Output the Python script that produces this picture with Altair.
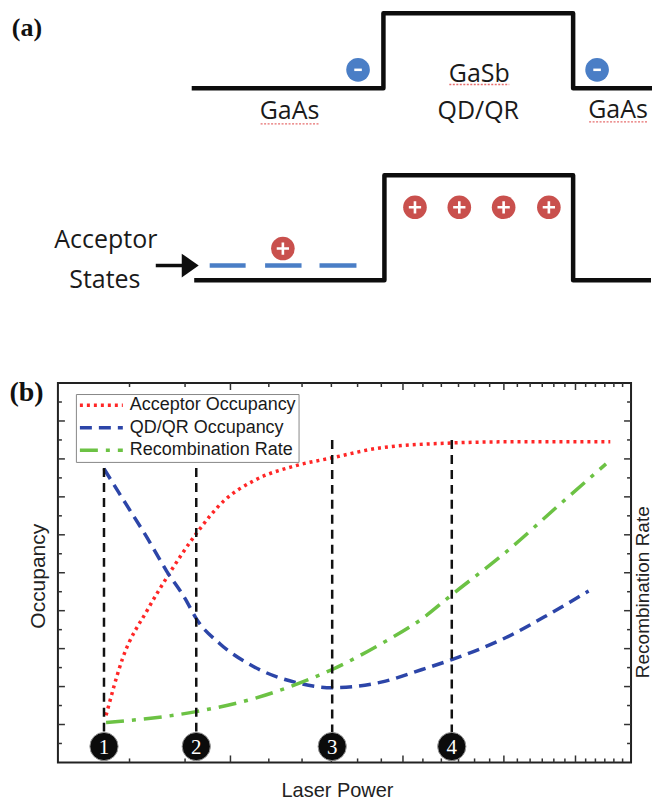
import altair as alt
import pandas as pd

# ================= (a) band diagram (schematic units) =================
cb_x = [192, 384, 384, 574, 574, 653]
cb_y = [86.7, 86.7, 11.7, 11.7, 86.7, 86.7]
vb_x = [194.5, 385, 385, 574, 574, 652]
vb_y = [279, 279, 174, 174, 279, 279]
acc_x1 = [210, 265.5, 320]
acc_x2 = [246, 302, 357]
acc_y = [264.3, 264.3, 264.3]
electron_x = [358.6, 598]
electron_y = [68.3, 68.3]
hole_x = [283.3, 415.6, 460, 504.4, 549.7]
hole_y = [247.3, 206, 206, 206, 206]
arrow_x = [156]
arrow_x2 = [185]
arrow_y = [264.3]
arrow_head_x = [190.5]
label_text = ["GaAs", "GaSb", "QD/QR", "GaAs", "Acceptor", "States"]
label_x = [290, 480, 479, 619, 106, 105]
label_y = [118, 80, 117.5, 117, 247, 287]
squig_x1 = [261, 450, 590]
squig_x2 = [319, 510, 648]
squig_y = [122.5, 83, 120.5]
panel_a_label = ["(a)"]
panel_a_label_x = [27]
panel_a_label_y = [34.5]
frame_top_y = [8]   # top edge of the schematic's frame (invisible)

# ================= (b) occupancy vs laser power =================
series = ["Acceptor Occupancy", "QD/QR Occupancy", "Recombination Rate"]
acc_p = [3.64, 3.89, 4.31, 4.68, 5.23, 5.84, 6.58, 7.79, 9.03, 10.94, 14.6, 18.2, 27.6]
acc_v = [0.124, 0.274, 0.405, 0.495, 0.603, 0.689, 0.742, 0.782, 0.803, 0.829, 0.842, 0.845, 0.845]
qd_p = [3.61, 3.94, 4.31, 4.64, 5.01, 5.23, 5.75, 6.58, 7.79, 9.03, 10.94, 12.96, 14.6, 18.2, 21.6, 25.3]
qd_v = [0.774, 0.682, 0.588, 0.505, 0.430, 0.379, 0.313, 0.253, 0.211, 0.197, 0.211, 0.245, 0.271, 0.330, 0.391, 0.452]
rec_p = [3.64, 5.23, 6.58, 7.79, 9.03, 10.94, 12.96, 14.6, 18.17, 22.37, 27.13]
rec_v = [0.105, 0.134, 0.168, 0.205, 0.245, 0.311, 0.379, 0.442, 0.555, 0.676, 0.787]

marker_p = [3.61, 5.23, 9.03, 14.6]
marker_top = [0.776, 0.776, 0.85, 0.85]
marker_label = ["1", "2", "3", "4"]
marker_circle_v = [0.042, 0.042, 0.042, 0.042]

xtick_major = [6, 12, 18, 24]
xtick_minor = [4, 5, 7, 8, 9, 10, 11, 13, 14, 15, 16, 17, 19, 20, 21, 22, 23, 25, 26, 27, 28, 29]
ytick_major = [0.1, 0.2, 0.3, 0.4, 0.5, 0.6, 0.7, 0.8, 0.9]
ytick_minor = [0.05, 0.15, 0.25, 0.35, 0.45, 0.55, 0.65, 0.75, 0.85, 0.95]

x_title = ["Laser Power"]

colors = ["#FF2626", "#2C45A8", "#6CC244"]
dashes = [[3, 4], [12, 7], [18, 8, 4, 8]]

BLUE = "#4A7EC6"
RED = "#C9504D"
INK = "#0d0d0d"

W, H_A, H_B = 574, 300, 380

# ---------------- panel (a) ----------------
AX = alt.Scale(domain=[58, 632], nice=False, zero=False)
AY = alt.Scale(domain=[13, 13 + H_A], nice=False, zero=False, reverse=True)


def ax(f="x"):
    return alt.X(f"{f}:Q", scale=AX, axis=None)


def ay(f="y"):
    return alt.Y(f"{f}:Q", scale=AY, axis=None)


anchor = alt.Chart(pd.DataFrame({"x": [300], "y": frame_top_y})).mark_point(
    shape="circle", size=1, opacity=0).encode(x=ax(), y=ay())

band_df = pd.DataFrame({
    "band": ["cb"] * len(cb_x) + ["vb"] * len(vb_x),
    "i": list(range(len(cb_x))) + list(range(len(vb_x))),
    "x": cb_x + vb_x,
    "y": cb_y + vb_y,
})
bands = alt.Chart(band_df).mark_line(color=INK, strokeWidth=4.5, strokeJoin="round").encode(
    x=ax(), y=ay(), detail="band:N", order="i:Q")

acc_df = pd.DataFrame({"x": acc_x1, "x2": acc_x2, "y": acc_y})
acc_states = alt.Chart(acc_df).mark_rule(color=BLUE, strokeWidth=4.5).encode(
    x=ax(), x2="x2:Q", y=ay())

shaft_df = pd.DataFrame({"x": arrow_x, "x2": arrow_x2, "y": arrow_y})
shaft = alt.Chart(shaft_df).mark_rule(color=INK, strokeWidth=3.5).encode(x=ax(), x2="x2:Q", y=ay())
head_df = pd.DataFrame({"x": arrow_head_x, "y": arrow_y})
head = alt.Chart(head_df).mark_point(shape="M-1,-1.4L1,0L-1,1.4Z", filled=True, color=INK,
                                     size=289, opacity=1).encode(x=ax(), y=ay())

e_df = pd.DataFrame({"x": electron_x, "y": electron_y})
h_df = pd.DataFrame({"x": hole_x, "y": hole_y})
e_circ = alt.Chart(e_df).mark_point(shape="circle", filled=True, color=BLUE, size=560,
                                    opacity=1).encode(x=ax(), y=ay())
e_sign = alt.Chart(e_df).mark_point(shape="M-0.32,0H0.32", filled=False, color="white",
                                    strokeWidth=2.5, size=560, opacity=1).encode(x=ax(), y=ay())
h_circ = alt.Chart(h_df).mark_point(shape="circle", filled=True, color=RED, size=560,
                                    opacity=1).encode(x=ax(), y=ay())
h_sign = alt.Chart(h_df).mark_point(shape="M-0.52,0H0.52M0,-0.52V0.52", filled=False, color="white",
                                    strokeWidth=2.6, size=560, opacity=1).encode(x=ax(), y=ay())

squig_df = pd.DataFrame({"x": squig_x1, "x2": squig_x2, "y": squig_y})
squig = alt.Chart(squig_df).mark_rule(color="#E04A4A", strokeWidth=1.3, strokeDash=[2, 1.5],
                                      opacity=0.8).encode(x=ax(), x2="x2:Q", y=ay())

lab_df = pd.DataFrame({"t": label_text, "x": label_x, "y": label_y})
labels_a = alt.Chart(lab_df).mark_text(font="Open Sans", fontSize=25, color="#1a1a1a",
                                       baseline="alphabetic", align="center").encode(
    x=ax(), y=ay(), text="t:N")

pa_df = pd.DataFrame({"t": panel_a_label, "x": panel_a_label_x, "y": panel_a_label_y})
tag_a = alt.Chart(pa_df).mark_text(font="Liberation Serif", fontWeight="bold", fontSize=26,
                                   color="#111", baseline="alphabetic", align="center").encode(
    x=ax(), y=ay(), text="t:N")

panel_a = alt.layer(anchor, bands, acc_states, shaft, head, e_circ, e_sign, h_circ, h_sign, squig,
                    labels_a, tag_a).properties(
    width=W, height=H_A, view=alt.ViewBackground(stroke="transparent"))

# ---------------- panel (b) ----------------
XS = alt.Scale(type="log", domain=[3, 30], nice=False)
YS = alt.Scale(domain=[0, 1], nice=False, zero=False)

curve_df = pd.DataFrame({
    "s": [series[0]] * len(acc_p) + [series[1]] * len(qd_p) + [series[2]] * len(rec_p),
    "p": acc_p + qd_p + rec_p,
    "v": acc_v + qd_v + rec_v,
})

leg = alt.Legend(title=None, orient="none", legendX=18, legendY=11, symbolType="stroke",
                 symbolSize=1849, symbolStrokeWidth=3.5, clipHeight=18.5, rowPadding=3.5,
                 labelFont="Liberation Sans", labelFontSize=18, labelColor="#1a1a1a",
                 labelOffset=5, padding=2, strokeColor="#888", fillColor="white", labelLimit=0)

title_common = dict(labels=False, ticks=False, domain=False, grid=False,
                    titleFont="Liberation Sans", titleFontWeight="normal", titleColor="#222")

lines = alt.Chart(curve_df).mark_line(strokeWidth=3.5, interpolate="monotone").encode(
    x=alt.X("p:Q", scale=XS, axis=None),
    y=alt.Y("v:Q", scale=YS, axis=alt.Axis(title="Occupancy", orient="left", titleFontSize=21,
                                           titlePadding=9, titleY=193, **title_common)),
    color=alt.Color("s:N", scale=alt.Scale(domain=series, range=colors), legend=leg),
    strokeDash=alt.StrokeDash("s:N", scale=alt.Scale(domain=series, range=dashes), legend=leg),
)

xtitle = alt.Chart(pd.DataFrame({"t": x_title})).mark_text(
    font="Liberation Sans", fontSize=20, color="#222", baseline="alphabetic", align="center").encode(
    text="t:N", x=alt.value(280), y=alt.value(H_B + 35))

marker_df = pd.DataFrame({"p": marker_p, "top": marker_top, "bot": marker_circle_v,
                          "n": marker_label})
vrules = alt.Chart(marker_df).mark_rule(color="#111", strokeWidth=2.5, strokeDash=[9, 6]).encode(
    x=alt.X("p:Q", scale=XS, axis=None),
    y=alt.Y("top:Q", scale=YS, axis=None), y2="bot:Q")
mcirc = alt.Chart(marker_df).mark_point(shape="circle", filled=True, fill="#0b0b0b", stroke="#9a9a9a",
                                        strokeWidth=1, size=800, opacity=1).encode(
    x=alt.X("p:Q", scale=XS, axis=None), y=alt.Y("bot:Q", scale=YS, axis=None))
mtext = alt.Chart(marker_df).mark_text(font="Liberation Serif", fontSize=21, color="white",
                                       baseline="middle", dy=1).encode(
    x=alt.X("p:Q", scale=XS, axis=None), y=alt.Y("bot:Q", scale=YS, axis=None), text="n:N")


def xticks(vals, ln, top):
    d = pd.DataFrame({"t": vals})
    y0, y1 = (0, ln) if top else (H_B, H_B - ln)
    return alt.Chart(d).mark_rule(color="#333", strokeWidth=1.5).encode(
        x=alt.X("t:Q", scale=XS, axis=None), y=alt.value(y0), y2=alt.value(y1))


def yticks(vals, ln, right, axis=None):
    d = pd.DataFrame({"t": vals})
    x0, x1 = (W, W - ln) if right else (0, ln)
    return alt.Chart(d).mark_rule(color="#333", strokeWidth=1.5).encode(
        y=alt.Y("t:Q", scale=YS, axis=axis), x=alt.value(x0), x2=alt.value(x1))


right_axis = alt.Axis(title="Recombination Rate", orient="right", titleFontSize=19, titlePadding=2,
                      titleAngle=270, titleBaseline="top", titleY=209, **title_common)

tag_b = alt.Chart(pd.DataFrame({"t": ["(b)"]})).mark_text(
    font="Liberation Serif", fontWeight="bold", fontSize=28, color="#111",
    baseline="alphabetic", align="center").encode(
    text="t:N", x=alt.value(-31.5), y=alt.value(18))

panel_b = alt.layer(
    lines,
    yticks(ytick_major, 7, True, right_axis),
    xticks(xtick_major, 7, False), xticks(xtick_minor, 4, False),
    xticks(xtick_major, 7, True), xticks(xtick_minor, 4, True),
    yticks(ytick_major, 7, False), yticks(ytick_minor, 4, False),
    yticks(ytick_minor, 4, True),
    vrules, mcirc, mtext, tag_b, xtitle,
).resolve_axis(y="independent").properties(
    width=W, height=H_B, view=alt.ViewBackground(stroke="#222", strokeWidth=2))

chart = alt.vconcat(panel_a, panel_b, spacing=63).resolve_legend(
    color="independent", strokeDash="independent").properties(
    padding={"left": 0, "top": 0, "right": 0, "bottom": 0})

chart.save("out.html", embed_options={"renderer": "svg", "actions": False})
